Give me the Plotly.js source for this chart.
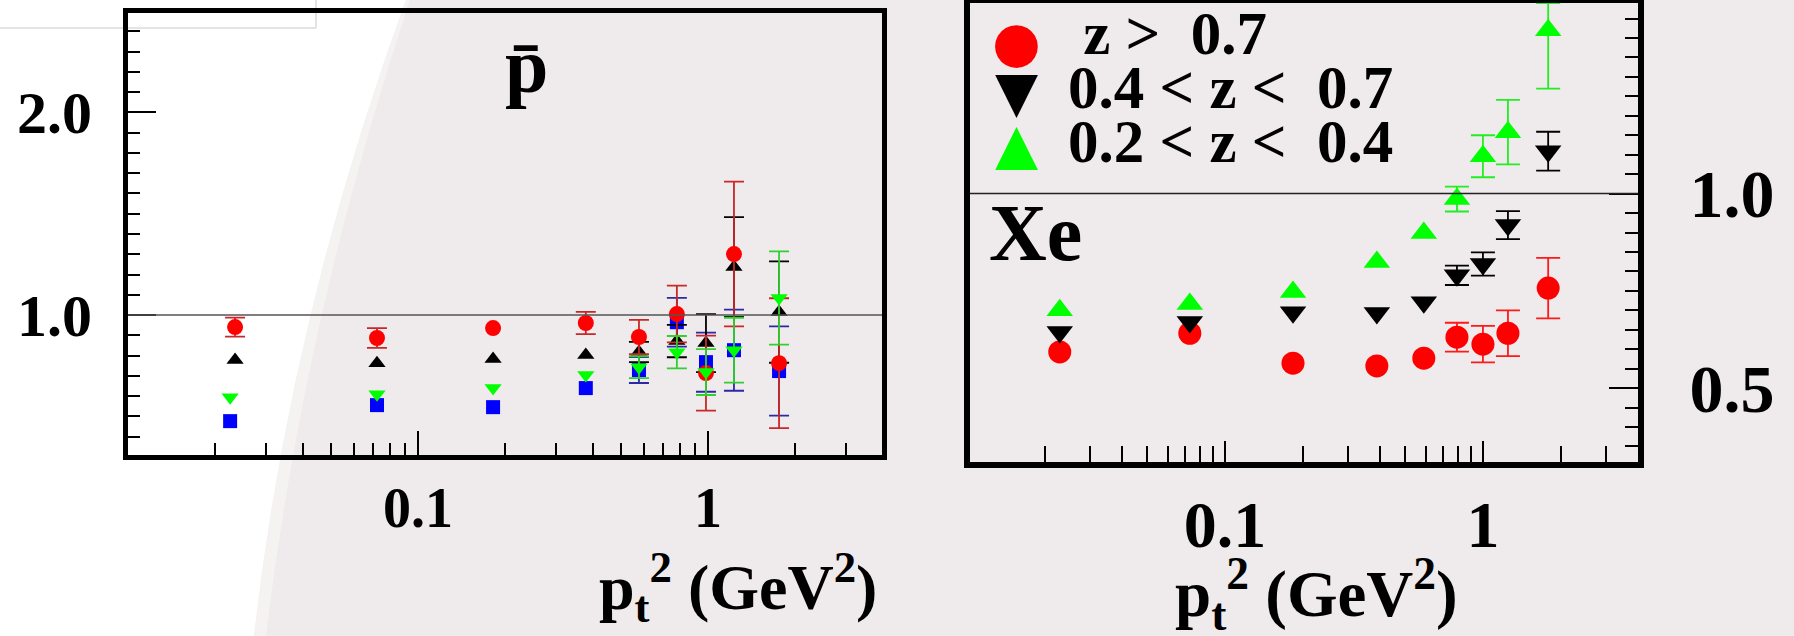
<!DOCTYPE html>
<html>
<head>
<meta charset="utf-8">
<script src="https://cdn.plot.ly/plotly-3.0.1.min.js"></script>
<style>
  html, body { margin: 0; padding: 0; background: #ffffff; }
  #chart { width: 1794px; height: 636px; }
</style>
</head>
<body>
<div id="chart"></div>
<script>
// ---------------- data ----------------
// pt^2 bins (GeV^2)
const ptLeft    = [0.0234, 0.0722, 0.1815, 0.379, 0.578, 0.781, 0.984, 1.229, 1.758];
const ptLeftLow = [0.0225, 0.0722, 0.1815, 0.379, 0.578, 0.781, 0.984, 1.229, 1.758];
const ptRight   = [0.0229, 0.0731, 0.1836, 0.388, 0.590, 0.793, 1.000, 1.250, 1.790];

// NaN = error bar hidden behind the marker in the picture
const N = NaN;

// left panel: anti-proton
const pbarRed      = [0.941, 0.887, 0.936, 0.961, 0.892, 1.005, 0.714, 1.301, 0.763];
const pbarRedErr   = [0.047, 0.049, N,     0.055, 0.084, 0.140, 0.185, 0.357, 0.320];
const pbarBlack    = [0.778, 0.763, 0.783, 0.803, 0.818, 0.872, 0.862, 1.237, 1.015];
const pbarBlackErr = [N,     N,     N,     N,     0.050, 0.080, 0.143, 0.246, 0.250];
const pbarGreen    = [0.595, 0.610, 0.640, 0.704, 0.743, 0.817, 0.719, 0.827, 1.084];
const pbarGreenErr = [N,     N,     N,     N,     0.054, 0.080, 0.113, 0.160, 0.230];
const pbarBlue     = [0.477, 0.556, 0.546, 0.640, 0.729, 0.965, 0.768, 0.827, 0.724];
const pbarBlueErr  = [N,     N,     N,     N,     0.064, 0.120, 0.146, 0.200, 0.220];

// right panel: Xe
const xeRed         = [0.593, 0.641, 0.564, 0.557, 0.577, 0.631, 0.613, 0.641, 0.757];
const xeRedErr      = [N,     N,     N,     N,     N,     0.037, 0.047, 0.059, 0.078];
const xeBlack       = [0.644, 0.670, 0.695, 0.693, 0.721, 0.790, 0.819, 0.919, 1.109];
const xeBlackErr    = [N,     N,     N,     N,     N,     0.025, 0.030, 0.036, 0.050];
const xeGreen       = [0.700, 0.716, 0.747, 0.824, 0.899, 0.986, 1.096, 1.158, 1.420];
const xeGreenErr    = [N,     N,     N,     N,     N,     0.032, 0.054, 0.083, 0.070];
const xeGreenErrLow = [N,     N,     N,     N,     N,     0.032, 0.054, 0.083, 0.150];

// ticks and labels
const majorLogTicks = [0.1, 1];
const majorLogText  = ['0.1', '1'];
const minorLogTicks = [0.02, 0.03, 0.04, 0.05, 0.06, 0.07, 0.08, 0.09,
                       0.2, 0.3, 0.4, 0.5, 0.6, 0.7, 0.8, 0.9, 2, 3, 4];
const leftYTicks       = [1.0, 2.0];
const leftYText        = ['1.0', '2.0'];
const leftYLongTicks   = [0.5, 1.5];
const rightYTicks      = [0.5, 1.0];
const rightYText       = ['0.5', '1.0'];
const rightYLongTicks  = [0.4, 0.6, 0.7, 0.8, 0.9, 1.1, 1.2, 1.3, 1.4];

const legendSymbols = ['\u25CF', '\u25BC', '\u25B2'];
const legendLabels  = ['\u00a0z &gt;\u00a0\u00a00.7', '0.4 &lt; z &lt;\u00a0\u00a00.7', '0.2 &lt; z &lt;\u00a0\u00a00.4'];
const seriesNames   = ['z > 0.7', '0.4 < z < 0.7', '0.2 < z < 0.4'];
const panelLabels   = ['p\u0304', 'Xe'];
const axisTitle     = 'p<sub>t</sub><sup>2</sup> (GeV<sup>2</sup>)';

// ---------------- styling ----------------
const W = 1794, H = 636;
const px = v => v / W;
const py = v => 1 - v / H;
const SERIF = 'Liberation Serif, Times New Roman, serif';
const RED = '#ff0000', BLACK = '#000000', GREEN = '#00ff00', BLUE = '#0000ff';

function pts(x, y, err, axes, symbol, size, color, errColor, capw, name, errLow) {
  const ey = { type: 'data', array: err, color: errColor, thickness: 1.8, width: capw, visible: true };
  if (errLow) { ey.symmetric = false; ey.arrayminus = errLow; }
  return {
    type: 'scatter', mode: 'markers', x: x, y: y, name: name,
    xaxis: axes[0], yaxis: axes[1], showlegend: false,
    marker: { symbol: symbol, size: size, color: color, line: { width: 0 } },
    error_y: ey
  };
}

const L = ['x', 'y'], R = ['x2', 'y2'];
const traces = [
  pts(ptLeftLow, pbarBlue,  pbarBlueErr,  L, 'square',        14, BLUE,  '#2a2aa8', 10, 'blue'),
  pts(ptLeft,    pbarBlack, pbarBlackErr, L, 'triangle-up',   15, BLACK, '#000000', 10, 'black'),
  pts(ptLeft,    pbarRed,   pbarRedErr,   L, 'circle',        16, RED,   '#c82828', 10, 'red'),
  pts(ptLeftLow, pbarGreen, pbarGreenErr, L, 'triangle-down', 15, GREEN, '#30d030', 10, 'green'),
  pts(ptRight, xeRed,   xeRedErr,   R, 'circle',        23, RED,   '#ff1a1a', 12, seriesNames[0]),
  pts(ptRight, xeBlack, xeBlackErr, R, 'triangle-down', 23, BLACK, '#000000', 12, seriesNames[1]),
  pts(ptRight, xeGreen, xeGreenErr, R, 'triangle-up',   23, GREEN, '#22ee22', 12, seriesNames[2], xeGreenErrLow)
];

function tickFont(fs) { return { family: SERIF, size: fs, color: 'black', weight: 'bold' }; }

function logAxis(dom, range, anchor, lw, tl, mtl, fs, standoff) {
  return {
    domain: dom, type: 'log', range: range, anchor: anchor,
    showline: true, linewidth: lw, linecolor: 'black', mirror: true,
    ticks: 'inside', ticklen: tl, tickwidth: 2, tickcolor: 'black',
    tickmode: 'array', tickvals: majorLogTicks, ticktext: majorLogText,
    tickfont: tickFont(fs), ticklabelstandoff: standoff,
    minor: { tickmode: 'array', tickvals: minorLogTicks, ticks: 'inside',
             ticklen: mtl, tickwidth: 2, tickcolor: 'black', showgrid: false },
    showgrid: false, zeroline: false, fixedrange: true
  };
}
function linAxis(dom, range, anchor, side, lw, vals, text, tl, mdt, mtl, fs, standoff) {
  return {
    domain: dom, range: range, anchor: anchor, side: side,
    showline: true, linewidth: lw, linecolor: 'black', mirror: true,
    ticks: 'inside', ticklen: tl, tickwidth: 2, tickcolor: 'black',
    tickmode: 'array', tickvals: vals, ticktext: text,
    tickfont: tickFont(fs), ticklabelstandoff: standoff,
    minor: { tickmode: 'linear', tick0: 0, dtick: mdt, ticks: 'inside',
             ticklen: mtl, tickwidth: 2, tickcolor: 'black', showgrid: false },
    showgrid: false, zeroline: false, fixedrange: true
  };
}
// overlay axes carrying only unlabeled long ticks
function tickOnlyAxis(over, anchor, side, type, range, vals, tl) {
  return {
    overlaying: over, anchor: anchor, side: side, type: type, range: range,
    showline: false, showticklabels: false, showgrid: false, zeroline: false,
    ticks: 'inside', ticklen: tl, tickwidth: 2, tickcolor: 'black',
    tickmode: 'array', tickvals: vals, fixedrange: true
  };
}

const PINK = '#efeaeb';
const shapes = [
  { type: 'path', xref: 'paper', yref: 'paper', layer: 'below',
    path: `M ${px(406)},${py(0)} Q ${px(290)},${py(318)} ${px(254)},${py(636)} L ${px(1794)},${py(636)} L ${px(1794)},${py(0)} Z`,
    fillcolor: PINK, line: { width: 0 } },
  { type: 'path', xref: 'paper', yref: 'paper', layer: 'below',
    path: `M ${px(406)},${py(0)} Q ${px(290)},${py(318)} ${px(254)},${py(636)} L ${px(266)},${py(636)} Q ${px(304)},${py(318)} ${px(410)},${py(0)} Z`,
    fillcolor: '#f5f2f2', line: { width: 0 } },
  { type: 'line', xref: 'paper', yref: 'paper', layer: 'below',
    x0: px(0), x1: px(316), y0: py(28), y1: py(28), line: { color: '#c8c8c8', width: 1 } },
  { type: 'line', xref: 'paper', yref: 'paper', layer: 'below',
    x0: px(316), x1: px(316), y0: py(0), y1: py(28), line: { color: '#c8c8c8', width: 1 } },
  { type: 'line', xref: 'x domain', yref: 'y', x0: 0, x1: 1, y0: 1, y1: 1,
    line: { color: '#555555', width: 1.5 } },
  { type: 'line', xref: 'x2 domain', yref: 'y2', x0: 0, x1: 1, y0: 1, y1: 1,
    line: { color: '#222222', width: 1.5 } }
];

const ann = [];
function txt(x, y, text, size, xanchor, color, family) {
  ann.push({ xref: 'paper', yref: 'paper', x: x, y: y, text: text, showarrow: false,
             xanchor: xanchor || 'center', yanchor: 'middle',
             font: { family: family || SERIF, size: size, color: color || 'black', weight: 'bold' } });
}
txt(px(526), py(66), panelLabels[0], 78);
txt(px(987), py(233), panelLabels[1], 80, 'left');
const legendColors = [RED, BLACK, GREEN];
const legendRowsSym = [41, 91, 144];
const legendRowsTxt = [34, 88, 141];
for (let i = 0; i < 3; i++) {
  txt(px(1017), py(legendRowsSym[i]), legendSymbols[i], 56, 'center', legendColors[i], 'DejaVu Sans');
  txt(px(1066), py(legendRowsTxt[i]), legendLabels[i], 61, 'left');
}
txt(px(738), py(587), axisTitle, 64);
txt(px(1316), py(594), axisTitle, 65);

const LX = [px(128), px(882)], LY = [py(455), py(13)];
const RX = [px(970), px(1638)], RY = [py(462), py(3)];
const LXR = [-2, 0.6], LYR = [0.31, 2.49];
const RXR = [-1.988, 0.601], RYR = [0.31, 1.49];

const layout = {
  width: W, height: H,
  margin: { l: 0, r: 0, t: 0, b: 0, pad: 0 },
  paper_bgcolor: '#ffffff', plot_bgcolor: 'rgba(0,0,0,0)',
  showlegend: false,
  xaxis:  logAxis(LX, LXR, 'y', 5, 24, 12, 56, 0),
  yaxis:  linAxis(LY, LYR, 'x', 'left', 5, leftYTicks, leftYText, 28, 0.1, 12, 60, 19),
  xaxis2: logAxis(RX, RXR, 'y2', 6, 21, 16, 66, 0),
  yaxis2: linAxis(RY, RYR, 'x2', 'right', 6, rightYTicks, rightYText, 29, 0.05, 13, 68, 32),
  yaxis3: tickOnlyAxis('y', 'x', 'left', 'linear', LYR, leftYLongTicks, 28),
  xaxis4: tickOnlyAxis('x2', 'y2', 'bottom', 'log', RXR, majorLogTicks, 33),
  yaxis4: tickOnlyAxis('y2', 'x2', 'right', 'linear', RYR, rightYLongTicks, 29),
  shapes: shapes,
  annotations: ann
};

Plotly.newPlot('chart', traces, layout, { staticPlot: true, displayModeBar: false });
</script>
</body>
</html>
